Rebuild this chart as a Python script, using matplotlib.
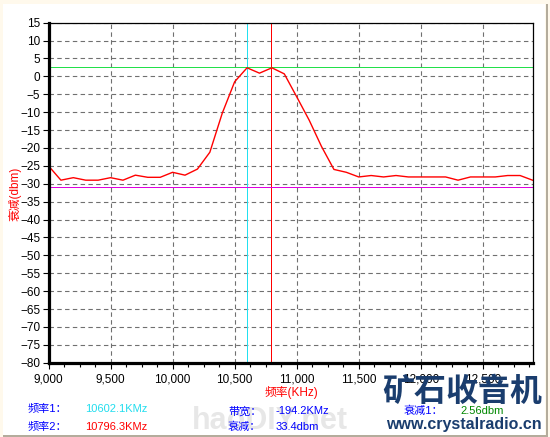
import matplotlib
matplotlib.use("Agg")
import matplotlib.pyplot as plt
from matplotlib.patches import Rectangle
from matplotlib.ticker import MultipleLocator, FuncFormatter

plt.rcParams["font.family"] = ["Liberation Sans", "Noto Sans CJK SC", "DejaVu Sans"]

# sweep data (kHz, dbm)
freqs = [9000, 9100, 9200, 9300, 9400, 9500, 9600, 9700, 9800, 9900,
         10000, 10100, 10200, 10300, 10400, 10500, 10600, 10700, 10800, 10900,
         11000, 11100, 11200, 11300, 11400, 11500, 11600, 11700, 11800, 11900,
         12000, 12100, 12200, 12300, 12400, 12500, 12600, 12700, 12800, 12900]
levels = [-25.0, -29.0, -28.3, -29.0, -29.0, -28.3, -29.0, -27.6, -28.2, -28.2,
          -26.8, -27.6, -25.9, -21.2, -10.3, -1.5, 2.4, 0.9, 2.4, 0.7,
          -5.7, -12.2, -19.6, -26.0, -26.8, -28.1, -27.7, -28.1, -27.7, -28.1,
          -28.1, -28.1, -28.1, -29.0, -28.1, -28.1, -28.1, -27.7, -27.7, -29.0]

cursor_f1 = 10602.1
cursor_f2 = 10796.3
level1 = 2.56
level2 = 2.56 - 33.4

W, H = 550, 437
fig = plt.figure(figsize=(W / 100, H / 100), dpi=100, facecolor="#FFF9EC")


def px(x, y):
    return x / W, 1 - y / H


# white panel with grey border right/bottom
fig.patches.append(Rectangle(px(3, 435), (545 - 3) / W, (435 - 4) / H,
                             transform=fig.transFigure, facecolor="white",
                             edgecolor="none", zorder=-2))
fig.patches.append(Rectangle(px(546, 435), 2 / W, 431 / H, transform=fig.transFigure,
                             facecolor="#B4AC9C", edgecolor="none", zorder=-2))
fig.patches.append(Rectangle(px(3, 437), 545 / W, 2 / H, transform=fig.transFigure,
                             facecolor="#B4AC9C", edgecolor="none", zorder=-2))

ax = fig.add_axes([48.5 / W, 1 - 362.7 / H, 484 / W, 340 / H])
ax.set_zorder(2)
ax.set_facecolor("white")

ax.plot(freqs, levels, color="#FF0000", lw=1.0, zorder=4)
ax.axvline(cursor_f1, color="#22E0F0", lw=0.7, zorder=3, antialiased=False)
ax.axvline(cursor_f2, color="#FF0000", lw=0.7, zorder=3, antialiased=False)
ax.axhline(level1, color="#22E04A", lw=0.7, zorder=3, antialiased=False)
ax.axhline(level2, color="#E000E0", lw=0.7, zorder=3, antialiased=False)

ax.set_xlim(9000, 12900)
ax.set_ylim(-80, 15)
ax.xaxis.set_major_locator(MultipleLocator(500))
ax.xaxis.set_minor_locator(MultipleLocator(125))
ax.yaxis.set_major_locator(MultipleLocator(5))
ax.xaxis.set_major_formatter(FuncFormatter(lambda v, p: f"{int(v):,}"))
ax.grid(True, which="major", color="#707070", ls=(0, (4, 3)), lw=0.8)
ax.tick_params(axis="both", which="major", labelsize=8.5, length=4, width=0.8,
               direction="out", colors="black", pad=2)
ax.tick_params(axis="x", which="minor", length=3, width=0.8)
ax.tick_params(axis="x", pad=4)

for side in ["top", "right"]:
    ax.spines[side].set_linewidth(0.9)
for side in ["left", "bottom"]:
    ax.spines[side].set_linewidth(2.3)
for s in ax.spines.values():
    s.set_zorder(5)

# labels
fig.text(*px(15, 194), "衰减(dbm)", color="#FF0000", fontsize=8.5, rotation=90,
         ha="center", va="center")
fig.text(*px(291, 392), "频率(KHz)", color="#FF0000", fontsize=8.5, ha="center", va="center")

# watermark
fig.text(*px(270, 421), "haoDIY.net", color="#DDDDDD", fontsize=22, fontweight="bold",
         ha="center", va="center", alpha=0.7, zorder=-1)

# readout panel
fig.text(*px(28, 409), "频率1：", color="#0000FF", fontsize=8, va="center")
fig.text(*px(28, 427), "频率2：", color="#0000FF", fontsize=8, va="center")
fig.text(*px(85, 409), "10602.1KMz", color="#22DDEE", fontsize=8, va="center")
fig.text(*px(85, 427), "10796.3KMz", color="#FF0000", fontsize=8, va="center")
fig.text(*px(228, 411), "带宽：", color="#0000FF", fontsize=8, va="center")
fig.text(*px(228, 427), "衰减：", color="#0000FF", fontsize=8, va="center")
fig.text(*px(276, 411), "-194.2KMz", color="#0000FF", fontsize=8, va="center")
fig.text(*px(276, 427), "33.4dbm", color="#0000FF", fontsize=8, va="center")
fig.text(*px(404, 411), "衰减1：", color="#0000FF", fontsize=8, va="center")
fig.text(*px(460, 411), "2.56dbm", color="#008800", fontsize=8, va="center")

# logo
fig.text(*px(462, 393), "矿石收音机", color="#1A3D6E", fontsize=23, fontweight="bold",
         ha="center", va="center", zorder=6)
fig.text(*px(464, 425), "www.crystalradio.cn", color="#1A3D6E", fontsize=11.5,
         fontweight="bold", ha="center", va="center", zorder=6)

fig.savefig("out.png", dpi=100, facecolor=fig.get_facecolor())
